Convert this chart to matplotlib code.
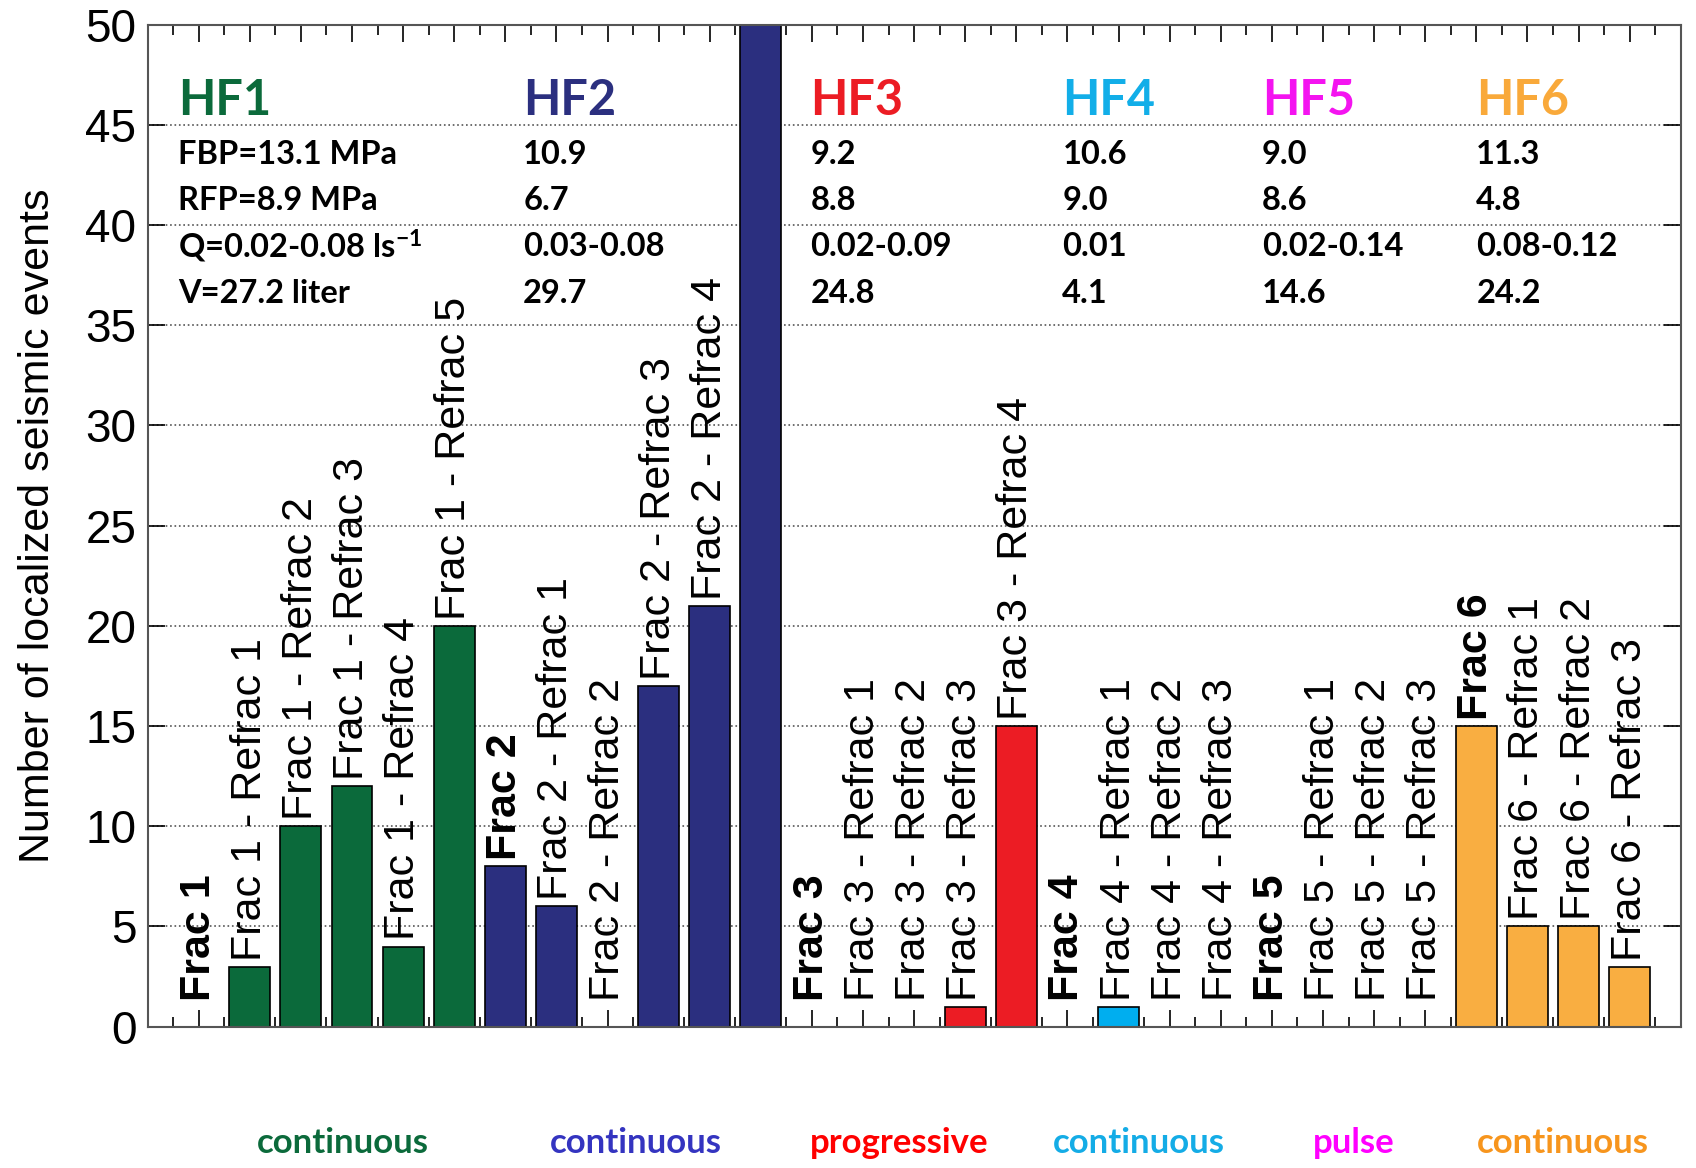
import matplotlib.pyplot as plt
import numpy as np

# Data
bar_labels = ['Frac 1', 'Frac 1 - Refrac 1', 'Frac 1 - Refrac 2', 'Frac 1 - Refrac 3',
              'Frac 1 - Refrac 4', 'Frac 1 - Refrac 5',
              'Frac 2', 'Frac 2 - Refrac 1', 'Frac 2 - Refrac 2', 'Frac 2 - Refrac 3',
              'Frac 2 - Refrac 4', 'Frac 2 - Refrac 5',
              'Frac 3', 'Frac 3 - Refrac 1', 'Frac 3 - Refrac 2', 'Frac 3 - Refrac 3',
              'Frac 3 - Refrac 4',
              'Frac 4', 'Frac 4 - Refrac 1', 'Frac 4 - Refrac 2', 'Frac 4 - Refrac 3',
              'Frac 5', 'Frac 5 - Refrac 1', 'Frac 5 - Refrac 2', 'Frac 5 - Refrac 3',
              'Frac 6', 'Frac 6 - Refrac 1', 'Frac 6 - Refrac 2', 'Frac 6 - Refrac 3']
events = [0, 3, 10, 12, 4, 20,
          8, 6, 0, 17, 21, 52,
          0, 0, 0, 1, 15,
          0, 1, 0, 0,
          0, 0, 0, 0,
          15, 5, 5, 3]
group = [1, 1, 1, 1, 1, 1,
         2, 2, 2, 2, 2, 2,
         3, 3, 3, 3, 3,
         4, 4, 4, 4,
         5, 5, 5, 5,
         6, 6, 6, 6]

hf_names = ['HF1', 'HF2', 'HF3', 'HF4', 'HF5', 'HF6']
hf_fbp = ['FBP=13.1 MPa', '10.9', '9.2', '10.6', '9.0', '11.3']
hf_rfp = ['RFP=8.9 MPa', '6.7', '8.8', '9.0', '8.6', '4.8']
hf_q = ['Q=0.02-0.08 ls$^{-1}$', '0.03-0.08', '0.02-0.09', '0.01', '0.02-0.14', '0.08-0.12']
hf_v = ['V=27.2 liter', '29.7', '24.8', '4.1', '14.6', '24.2']
hf_mode = ['continuous', 'continuous', 'progressive', 'continuous', 'pulse', 'continuous']

bar_colors = ['#0b6a3b', '#2b2f7f', '#ec1c24', '#00aeef', '#ff00ff', '#f9ae41']
title_colors = ['#0b6a3b', '#2b2f7f', '#ec1c24', '#12aee8', '#f414f0', '#f9a93a']
mode_colors = ['#0b6a3b', '#3434c0', '#ff0000', '#14ace6', '#ff00ff', '#f7951d']

plt.rcParams['mathtext.default'] = 'regular'

fig = plt.figure(figsize=(16.96, 11.68), dpi=100)
ax = fig.add_axes([0.087, 0.121, 0.904, 0.858])

x = np.arange(1, len(events) + 1)
cols = [bar_colors[g - 1] for g in group]
ax.bar(x, events, width=0.8, color=cols, edgecolor='black', linewidth=1.2, zorder=2)

ymax = 50
# Labels above each bar (the tallest bar runs off the top, so its label is not visible)
for xi, val, lab in zip(x, events, bar_labels):
    if val >= ymax:
        continue
    bold = ' - ' not in lab
    y = val + 0.3 if val > 0 else 1.3
    ax.text(xi, y, lab, rotation=90, ha='center', va='bottom',
            fontsize=31, family='Liberation Sans',
            fontweight='bold' if bold else 'normal', zorder=3)

ax.set_xlim(0, 30)
ax.set_ylim(0, ymax)
ax.set_yticks(np.arange(0, 51, 5))
ax.set_xticks(np.arange(0, 31, 1))
ax.set_xticks(np.arange(0.5, 30, 1), minor=True)
ax.set_xticklabels([])
ax.tick_params(axis='both', which='major', direction='in', top=True, right=True, length=12, width=1.2)
ax.tick_params(axis='x', which='minor', direction='in', top=True, bottom=True, length=7, width=1.2)
ax.tick_params(axis='y', labelsize=33, pad=8)
for lbl in ax.get_yticklabels():
    lbl.set_family('Liberation Sans')
ax.yaxis.grid(True, linestyle=':', color='#555555', linewidth=1.2, zorder=0)
ax.set_axisbelow(True)
for s in ax.spines.values():
    s.set_color('#555555')
    s.set_linewidth(1.5)

ax.set_ylabel('Number of localized seismic events', fontsize=31, family='Liberation Sans', labelpad=20)

# HF parameter blocks
hf_x = [0.6, 7.35, 12.97, 17.9, 21.8, 26.0]
for i in range(6):
    ax.text(hf_x[i], 46.2, hf_names[i], color=title_colors[i], fontsize=35,
            fontweight='bold', family='Lato', va='center', ha='left')
    for yy, txt in zip([43.5, 41.2, 38.95, 36.6], [hf_fbp[i], hf_rfp[i], hf_q[i], hf_v[i]]):
        ax.text(hf_x[i], yy, txt, fontsize=23.5, fontweight='bold', family='Lato',
                va='center', ha='left')

# Injection mode labels under the axis
mode_x = [3.83, 9.55, 14.7, 19.4, 23.6, 27.7]
for i in range(6):
    ax.text(mode_x[i], -5.8, hf_mode[i], color=mode_colors[i], fontsize=25,
            fontweight='bold', family='Lato', ha='center', va='center', clip_on=False)

plt.savefig('out.png', dpi=100)
